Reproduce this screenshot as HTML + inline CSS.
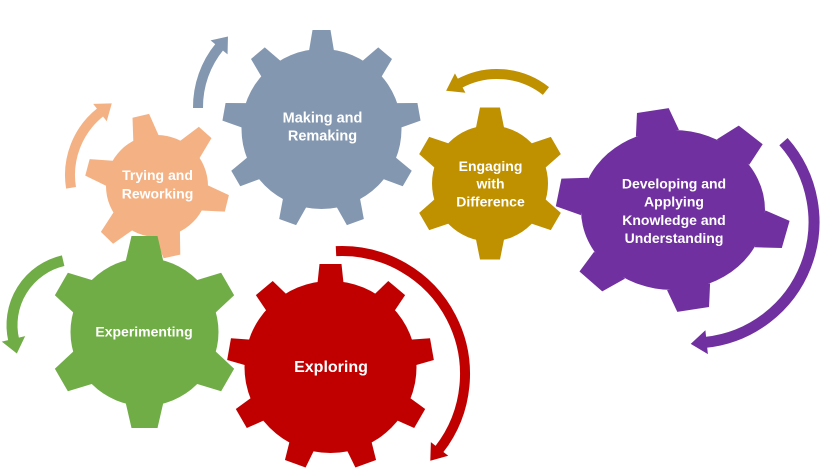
<!DOCTYPE html>
<html><head><meta charset="utf-8"><style>
html,body{margin:0;padding:0;background:#fff;width:822px;height:473px;overflow:hidden;}
svg{display:block;overflow:hidden;}
text{font-family:"Liberation Sans",Arial,sans-serif;font-weight:bold;fill:#fff;text-anchor:middle;}
</style></head><body>
<svg width="822" height="473" viewBox="0 0 822 473" xmlns="http://www.w3.org/2000/svg">
<rect width="822" height="473" fill="#fff"/>

<!-- Arrows -->
<!-- orange -->
<path d="M71.03,187.79 A80,80 0 0 1 100.75,111.96" fill="none" stroke="#F4B183" stroke-width="10"/>
<g transform="translate(150,175) rotate(232) translate(80,0)" fill="#F4B183"><polygon points="-11,-1 11,-1 0,14"/></g>
<!-- blue -->
<path d="M198,108 A95,95 0 0 1 219.7,46.57" fill="none" stroke="#8497B0" stroke-width="10"/>
<g transform="translate(293,107) rotate(219.5) translate(95,0)" fill="#8497B0"><polygon points="-11,-1 11,-1 0,13"/></g>
<!-- gold -->
<path d="M459.3,83.57 A79,79 0 0 1 545.94,90.99" fill="none" stroke="#BF9000" stroke-width="10"/>
<g transform="translate(497,153) rotate(-118.5) translate(79,0)" fill="#BF9000"><polygon points="-11,1 11,1 0,-15"/></g>
<!-- purple -->
<path d="M783.48,141.66 A121,121 0 0 1 705.65,342.34" fill="none" stroke="#7030A0" stroke-width="11"/>
<g transform="translate(693,222) rotate(84) translate(121,0)" fill="#7030A0"><polygon points="-12,-1 12,-1 0,15"/></g>
<!-- red -->
<path d="M335.99,251.15 A123,123 0 0 1 438.93,449.73" fill="none" stroke="#C00000" stroke-width="10"/>
<g transform="translate(342,374) rotate(38) translate(123,0)" fill="#C00000"><polygon points="-11,-1 11,-1 0,14"/></g>
<!-- green -->
<path d="M13.69,339.85 A66,66 0 0 1 63.15,260.69" fill="none" stroke="#70AD47" stroke-width="11"/>
<g transform="translate(78,325) rotate(167) translate(66,0)" fill="#70AD47"><polygon points="-12,1 12,1 0,-14"/></g>

<!-- Orange gear: Trying and Reworking -->
<g transform="translate(157,186)" fill="#F4B183">
<circle r="51"/>
<polygon points="-8.5,-72 8.5,-72 13,-49 -13,-49" transform="rotate(-13)"/>
<polygon points="-8.5,-72 8.5,-72 13,-49 -13,-49" transform="rotate(42)"/>
<polygon points="-8.5,-72 8.5,-72 13,-49 -13,-49" transform="rotate(104)"/>
<polygon points="-8.5,-72 8.5,-72 13,-49 -13,-49" transform="rotate(168)"/>
<polygon points="-8.5,-72 8.5,-72 13,-49 -13,-49" transform="rotate(224)"/>
<polygon points="-8.5,-72 8.5,-72 13,-49 -13,-49" transform="rotate(285)"/>
</g>

<!-- Blue gear: Making and Remaking -->
<g transform="translate(321.5,129)" fill="#8497B0">
<circle r="80"/>
<polygon points="-9,-99 9,-99 12.5,-78 -12.5,-78"/>
<polygon points="-9,-99 9,-99 12.5,-78 -12.5,-78" transform="rotate(40)"/>
<polygon points="-9,-99 9,-99 12.5,-78 -12.5,-78" transform="rotate(80)"/>
<polygon points="-9,-99 9,-99 12.5,-78 -12.5,-78" transform="rotate(120)"/>
<polygon points="-9,-99 9,-99 12.5,-78 -12.5,-78" transform="rotate(160)"/>
<polygon points="-9,-99 9,-99 12.5,-78 -12.5,-78" transform="rotate(200)"/>
<polygon points="-9,-99 9,-99 12.5,-78 -12.5,-78" transform="rotate(240)"/>
<polygon points="-9,-99 9,-99 12.5,-78 -12.5,-78" transform="rotate(280)"/>
<polygon points="-9,-99 9,-99 12.5,-78 -12.5,-78" transform="rotate(320)"/>
</g>

<!-- Gold gear: Engaging with Difference -->
<g transform="translate(490,183.5)" fill="#BF9000">
<circle r="58"/>
<polygon points="-10,-76 10,-76 14,-56 -14,-56"/>
<polygon points="-10,-76 10,-76 14,-56 -14,-56" transform="rotate(60)"/>
<polygon points="-10,-76 10,-76 14,-56 -14,-56" transform="rotate(120)"/>
<polygon points="-10,-76 10,-76 14,-56 -14,-56" transform="rotate(180)"/>
<polygon points="-10,-76 10,-76 14,-56 -14,-56" transform="rotate(240)"/>
<polygon points="-10,-76 10,-76 14,-56 -14,-56" transform="rotate(300)"/>
</g>

<!-- Purple gear -->
<g transform="translate(673,210) scale(1.15,1)" fill="#7030A0">
<circle r="80"/>
<polygon points="-14,-101 14,-101 19,-78 -19,-78" transform="rotate(-10)"/>
<polygon points="-14,-101 14,-101 19,-78 -19,-78" transform="rotate(42)"/>
<polygon points="-14,-101 14,-101 19,-78 -19,-78" transform="rotate(104)"/>
<polygon points="-14,-101 14,-101 19,-78 -19,-78" transform="rotate(170)"/>
<polygon points="-14,-101 14,-101 19,-78 -19,-78" transform="rotate(225)"/>
<polygon points="-14,-101 14,-101 19,-78 -19,-78" transform="rotate(280)"/>
</g>

<!-- Green gear: Experimenting -->
<g transform="translate(144.5,332)" fill="#70AD47">
<circle r="74"/>
<polygon points="-13,-96 13,-96 19,-70 -19,-70"/>
<polygon points="-13,-96 13,-96 19,-70 -19,-70" transform="rotate(60)"/>
<polygon points="-13,-96 13,-96 19,-70 -19,-70" transform="rotate(120)"/>
<polygon points="-13,-96 13,-96 19,-70 -19,-70" transform="rotate(180)"/>
<polygon points="-13,-96 13,-96 19,-70 -19,-70" transform="rotate(240)"/>
<polygon points="-13,-96 13,-96 19,-70 -19,-70" transform="rotate(300)"/>
</g>

<!-- Red gear: Exploring -->
<g transform="translate(330.5,367)" fill="#C00000">
<circle r="86"/>
<polygon points="-11,-103 11,-103 13,-84 -13,-84"/>
<polygon points="-11,-103 11,-103 13,-84 -13,-84" transform="rotate(40)"/>
<polygon points="-11,-103 11,-103 13,-84 -13,-84" transform="rotate(80)"/>
<polygon points="-11,-103 11,-103 13,-84 -13,-84" transform="rotate(120)"/>
<polygon points="-11,-103 11,-103 13,-84 -13,-84" transform="rotate(160)"/>
<polygon points="-11,-103 11,-103 13,-84 -13,-84" transform="rotate(200)"/>
<polygon points="-11,-103 11,-103 13,-84 -13,-84" transform="rotate(240)"/>
<polygon points="-11,-103 11,-103 13,-84 -13,-84" transform="rotate(280)"/>
<polygon points="-11,-103 11,-103 13,-84 -13,-84" transform="rotate(320)"/>
</g>

<!-- Labels -->
<text x="322.5" y="122.5" font-size="14.5">Making and</text>
<text x="322.5" y="140.5" font-size="14.5">Remaking</text>

<text x="157.5" y="180" font-size="14">Trying and</text>
<text x="157.5" y="198.5" font-size="14">Reworking</text>

<text x="144" y="336.5" font-size="14">Experimenting</text>

<text x="331" y="372" font-size="16">Exploring</text>

<text x="490.5" y="171" font-size="14">Engaging</text>
<text x="490.5" y="188.5" font-size="14">with</text>
<text x="490.5" y="206.5" font-size="14">Difference</text>

<text x="674" y="188.5" font-size="14">Developing and</text>
<text x="674" y="206.5" font-size="14">Applying</text>
<text x="674" y="225" font-size="14">Knowledge and</text>
<text x="674" y="243" font-size="14">Understanding</text>
</svg>
</body></html>
